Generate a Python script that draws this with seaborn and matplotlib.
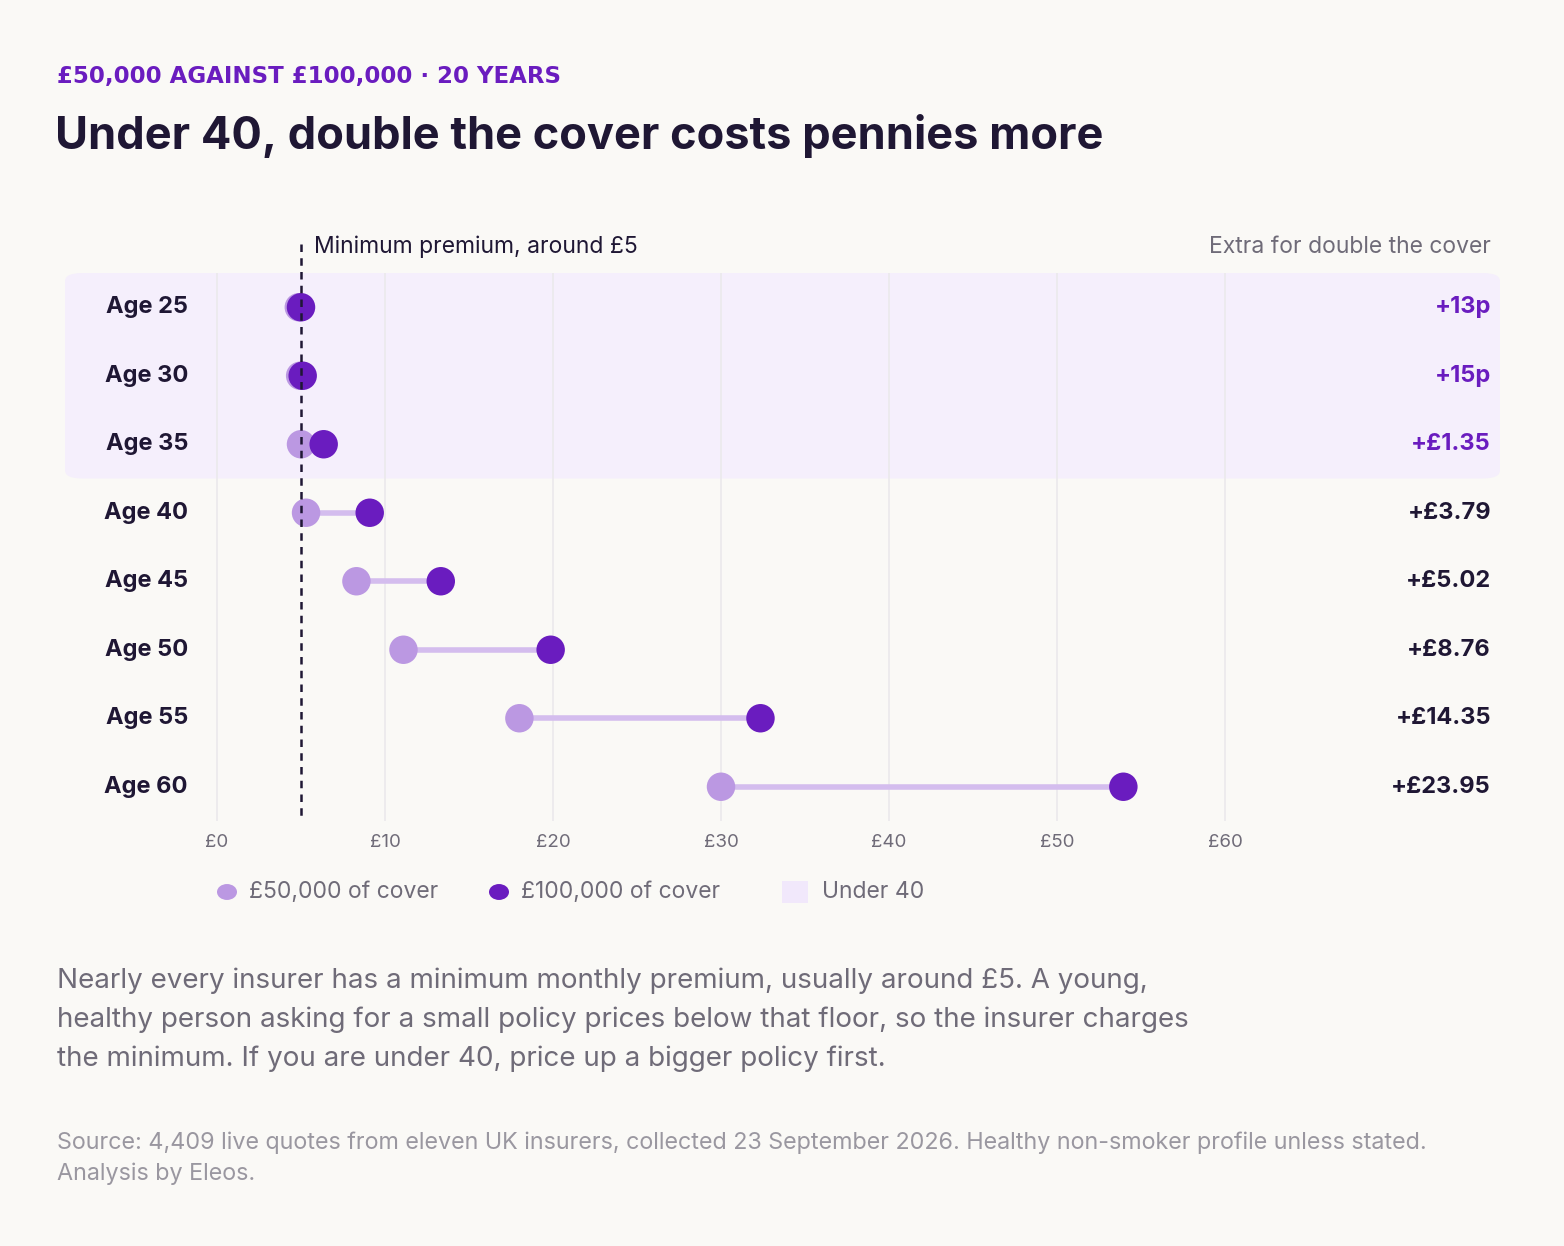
import numpy as np
import pandas as pd
import seaborn as sns
from matplotlib import pyplot as plt
from matplotlib.patches import FancyBboxPatch, Rectangle

# Data
ages = ["Age 25", "Age 30", "Age 35", "Age 40", "Age 45", "Age 50", "Age 55", "Age 60"]
cover_50k = [4.87, 4.95, 5.00, 5.30, 8.30, 11.10, 18.00, 30.00]
cover_100k = [5.00, 5.10, 6.35, 9.09, 13.32, 19.86, 32.35, 53.95]
extra_labels = ["+13p", "+15p", "+£1.35", "+£3.79", "+£5.02", "+£8.76", "+£14.35", "+£23.95"]
x_ticks = [0, 10, 20, 30, 40, 50, 60]
min_premium = 5

LIGHT = "#bb98e2"
DARK = "#6a1cbf"
INK = "#1f1734"
GREY = "#6f6b78"
BG = "#faf9f6"

sns.set_theme(style="white")
plt.rcParams["font.family"] = ["Inter", "DejaVu Sans"]

W, H = 1564, 1246
fig = plt.figure(figsize=(W / 100, H / 100), dpi=100, facecolor=BG)

def fx(x):
    return x / W

def fy(y):
    return 1 - y / H

# axes spanning px x 65..1500, y 273..821
ax = fig.add_axes([fx(65), fy(821), fx(1500) - fx(65), (821 - 273) / H])
ax.set_facecolor(BG)
ax.set_xlim((65 - 217) / 16.8, (1500 - 217) / 16.8)
ax.set_ylim(7.5, -0.5)
for s in ax.spines.values():
    s.set_visible(False)
ax.set_xticks([])
ax.set_yticks([])

df = pd.DataFrame({"age": ages, "pos": np.arange(len(ages)),
                   "c50": cover_50k, "c100": cover_100k})

# under-40 band
x0, x1 = ax.get_xlim()
ax.add_patch(FancyBboxPatch((x0, -0.5), x1 - x0, 3.0, boxstyle="round,pad=0,rounding_size=1.0",
                            mutation_aspect=0.12, fc="#f5effc", ec="none", zorder=0))

for t in x_ticks:
    ax.plot([t, t], [-0.5, 7.5], color="#ebe9ec", lw=1.2, zorder=1)

ax.hlines(df["pos"], df["c50"], df["c100"], color="#d4bdee", lw=4, zorder=2)
sns.scatterplot(data=df, x="c50", y="pos", color=LIGHT, s=420, edgecolor="none", zorder=3, ax=ax)
sns.scatterplot(data=df, x="c100", y="pos", color=DARK, s=420, edgecolor="none", zorder=4, ax=ax)
ax.plot([min_premium, min_premium], [-0.93, 7.5], color=INK, lw=1.8, ls=(0, (3, 2.5)), zorder=5, clip_on=False)
ax.set_xlabel("")
ax.set_ylabel("")
ax.set_xlim(x0, x1)
ax.set_ylim(7.5, -0.5)

for i, (a, lab) in enumerate(zip(ages, extra_labels)):
    ax.text((188 - 217) / 16.8, i, a, ha="right", va="center", fontsize=17, fontweight="bold", color=INK)
    ax.text((1491 - 217) / 16.8, i, lab, ha="right", va="center", fontsize=17, fontweight="bold",
            color=DARK if i < 3 else INK)

for t in x_ticks:
    ax.text(t, 7.82, f"£{t}", ha="center", va="center", fontsize=13.5, color=GREY)

# header texts
fig.text(fx(57), fy(76), "£50,000 AGAINST £100,000 · 20 YEARS", fontsize=16.5, fontweight="bold",
         color=DARK, va="center", family=["DejaVu Sans"])
fig.text(fx(55), fy(136), "Under 40, double the cover costs pennies more", fontsize=32.5, fontweight="bold",
         color=INK, va="center")
fig.text(fx(314), fy(247), "Minimum premium, around £5", fontsize=16.5, color=INK, va="center")
fig.text(fx(1491), fy(247), "Extra for double the cover", fontsize=16.5, color=GREY, va="center", ha="right")

# legend
fig.patches.append(plt.Circle((fx(227), fy(892)), 10 / W, transform=fig.transFigure, fc=LIGHT, ec="none"))
fig.text(fx(249), fy(892), "£50,000 of cover", fontsize=16.5, color=GREY, va="center")
fig.patches.append(plt.Circle((fx(499), fy(892)), 10 / W, transform=fig.transFigure, fc=DARK, ec="none"))
fig.text(fx(521), fy(892), "£100,000 of cover", fontsize=16.5, color=GREY, va="center")
fig.patches.append(Rectangle((fx(782), fy(903)), 26 / W, 22 / H, transform=fig.transFigure,
                             fc="#f1e8fb", ec="none"))
fig.text(fx(822), fy(892), "Under 40", fontsize=16.5, color=GREY, va="center")

body = ("Nearly every insurer has a minimum monthly premium, usually around £5. A young,\n"
        "healthy person asking for a small policy prices below that floor, so the insurer charges\n"
        "the minimum. If you are under 40, price up a bigger policy first.")
fig.text(fx(57), fy(968), body, fontsize=20, color=GREY, va="top", linespacing=1.6)

src = ("Source: 4,409 live quotes from eleven UK insurers, collected 23 September 2026. Healthy non-smoker profile unless stated.\n"
       "Analysis by Eleos.")
fig.text(fx(57), fy(1131), src, fontsize=16.8, color="#9a97a0", va="top", linespacing=1.5)

fig.savefig("out.png", dpi=100, facecolor=BG)
